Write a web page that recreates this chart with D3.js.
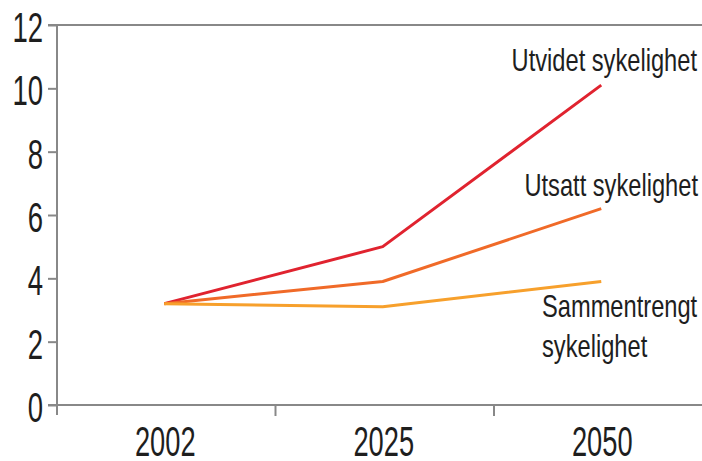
<!DOCTYPE html>
<html>
<head>
<meta charset="utf-8">
<script src="https://cdn.jsdelivr.net/npm/d3@7"></script>
<style>
  html, body { margin: 0; padding: 0; background: #fff; }
  svg { display: block; }
  text { font-family: "Liberation Sans", Arial, sans-serif; fill: #1e1e1e; }
</style>
</head>
<body>
<svg id="chart" width="702" height="461"></svg>
<script>
// Categories and series (sickness scenarios)
const years = ["2002", "2025", "2050"];
const utvidet = [3.2, 5.0, 10.1];       // Utvidet sykelighet
const utsatt = [3.2, 3.9, 6.2];         // Utsatt sykelighet
const sammentrengt = [3.2, 3.1, 3.9];   // Sammentrengt sykelighet
const yTicks = [0, 2, 4, 6, 8, 10, 12];

const series = [
  { name: "utvidet", values: utvidet, color: "#e0232f" },
  { name: "utsatt", values: utsatt, color: "#f06a28" },
  { name: "sammentrengt", values: sammentrengt, color: "#f7a02c" }
];

const svg = d3.select("#chart");
const W = 702;
const plotLeft = 57, plotTop = 25, plotBottom = 405;

const x = d3.scaleBand().domain(years).range([plotLeft, plotLeft + 3 * 218.5]).padding(0);
const y = d3.scaleLinear().domain([0, 12]).range([plotBottom, plotTop]);
const axisColor = "#888";

// Frame lines: top rule, baseline, vertical axis
svg.append("line").attr("x1", plotLeft - 9).attr("x2", W).attr("y1", y(12)).attr("y2", y(12))
  .attr("stroke", axisColor).attr("stroke-width", 2);
svg.append("line").attr("x1", plotLeft - 9).attr("x2", W).attr("y1", y(0)).attr("y2", y(0))
  .attr("stroke", axisColor).attr("stroke-width", 2);
svg.append("line").attr("x1", plotLeft).attr("x2", plotLeft).attr("y1", y(12)).attr("y2", y(0) + 10)
  .attr("stroke", axisColor).attr("stroke-width", 2);

// Y axis ticks and labels
const yAxis = svg.append("g").attr("transform", `translate(${plotLeft},0)`)
  .call(d3.axisLeft(y).tickValues(yTicks).tickSize(9).tickPadding(5).tickFormat(d3.format("d")));
yAxis.select(".domain").remove();
yAxis.selectAll(".tick line").attr("stroke", axisColor).attr("stroke-width", 2);
yAxis.selectAll(".tick text")
  .attr("font-size", 43)
  .attr("dy", null)
  .each(function () {
    const t = d3.select(this);
    const tx = +t.attr("x");
    t.attr("x", 0).attr("y", 0)
     .attr("transform", `translate(${tx},16.5) scale(0.64,1)`);
  })
  .attr("fill", "#1e1e1e");

// X axis: ticks between categories, labels centred in each band
svg.append("g").selectAll("line")
  .data(years.slice(0, -1))
  .join("line")
  .attr("x1", d => x(d) + x.bandwidth()).attr("x2", d => x(d) + x.bandwidth())
  .attr("y1", y(0)).attr("y2", y(0) + 11)
  .attr("stroke", axisColor).attr("stroke-width", 2);

svg.append("g").selectAll("text")
  .data(years)
  .join("text")
  .attr("text-anchor", "middle")
  .attr("font-size", 42)
  .attr("transform", d => `translate(${x(d) + x.bandwidth() / 2 - 1},456) scale(0.65,1)`)
  .text(d => d);

// Series lines
const line = d3.line()
  .x((d, i) => x(years[i]) + x.bandwidth() / 2 - 2)
  .y(d => y(d));

svg.append("g").selectAll("path")
  .data(series)
  .join("path")
  .attr("d", d => line(d.values))
  .attr("fill", "none")
  .attr("stroke", d => d.color)
  .attr("stroke-width", 3)
  .attr("stroke-linejoin", "round")
  .attr("stroke-linecap", "butt");

// Series labels
const labels = [
  { lines: ["Utvidet sykelighet"], x: 697, y: 71, anchor: "end" },
  { lines: ["Utsatt sykelighet"], x: 698, y: 196, anchor: "end" },
  { lines: ["Sammentrengt", "sykelighet"], x: 542, y: 317, anchor: "start" }
];

const lg = svg.append("g");
labels.forEach(l => {
  l.lines.forEach((s, i) => {
    lg.append("text")
      .attr("text-anchor", l.anchor)
      .attr("font-size", 32)
      .attr("transform", `translate(${l.x},${l.y + i * 40}) scale(0.74,1)`)
      .text(s);
  });
});
</script>
</body>
</html>
